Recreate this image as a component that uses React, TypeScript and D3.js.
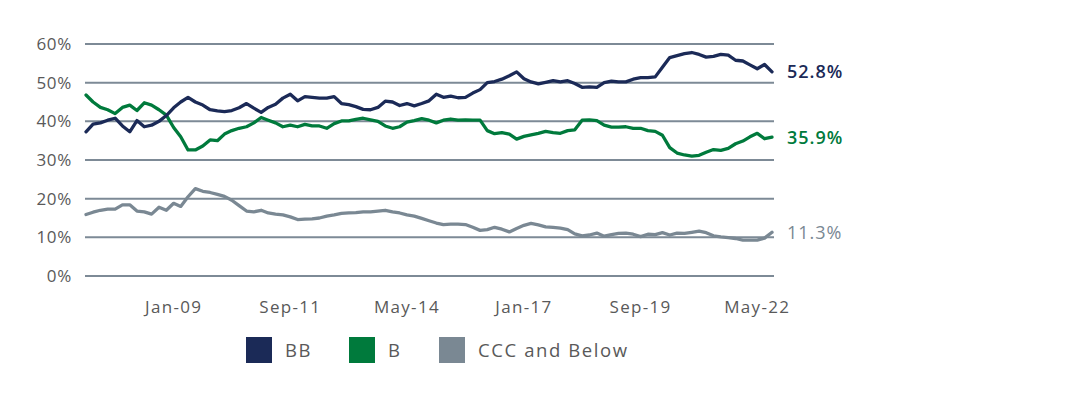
import * as d3 from "d3";

// bi-monthly readings, Jan-07 .. Sep-22
const bb = [
  37.3, 39.3, 39.6, 40.3, 40.8, 38.8, 37.3, 40.2, 38.6, 39, 40, 41.5, 43.5, 45,
  46.2, 45, 44.2, 43, 42.7, 42.5, 42.8, 43.5, 44.6, 43.4, 42.3, 43.6, 44.4, 46,
  47, 45.3, 46.4, 46.2, 46, 46, 46.4, 44.6, 44.3, 43.8, 43.1, 43, 43.6, 45.2,
  45, 44.1, 44.6, 44, 44.6, 45.3, 47, 46.2, 46.5, 46.1, 46.2, 47.3, 48.2,
  50, 50.3, 50.9, 51.8, 52.8, 51, 50.2, 49.7, 50.1, 50.5, 50.2, 50.5, 49.8, 48.8,
  48.9, 48.8, 50, 50.4, 50.2, 50.2, 50.9, 51.3, 51.3, 51.5, 54, 56.5, 57, 57.5,
  57.8, 57.3, 56.6, 56.8, 57.3, 57.1, 55.8, 55.6, 54.6, 53.6, 54.7, 52.8,
];
const b = [
  46.8, 45, 43.6, 43, 42, 43.6, 44.2, 42.8, 44.8, 44.2, 43, 41.6, 38.4, 36,
  32.6, 32.6, 33.6, 35.2, 35, 36.7, 37.6, 38.2, 38.6, 39.6, 41, 40.3, 39.6, 38.6,
  39, 38.6, 39.2, 38.8, 38.8, 38.2, 39.4, 40.1, 40.1, 40.5, 40.8, 40.4, 40, 38.8,
  38.2, 38.6, 39.8, 40.2, 40.7, 40.3, 39.6, 40.3, 40.6, 40.3, 40.4, 40.3, 40.3,
  37.6, 36.8, 37.1, 36.7, 35.4, 36.1, 36.5, 36.9, 37.4, 37.1, 36.9, 37.6, 37.8, 40.3,
  40.4, 40.2, 39, 38.5, 38.5, 38.6, 38.2, 38.2, 37.6, 37.4, 36.4, 33.2, 31.8, 31.3,
  31, 31.2, 32, 32.7, 32.5, 33, 34.2, 34.9, 36, 36.9, 35.5, 35.9,
];
const ccc = [
  15.9, 16.5, 17, 17.3, 17.3, 18.4, 18.4, 16.8, 16.6, 16, 17.8, 17, 18.8, 18,
  20.5, 22.6, 21.9, 21.6, 21.1, 20.6, 19.6, 18.2, 16.8, 16.6, 17, 16.3, 16, 15.8,
  15.3, 14.6, 14.7, 14.8, 15, 15.5, 15.8, 16.2, 16.3, 16.4, 16.6, 16.6, 16.8, 17,
  16.6, 16.3, 15.8, 15.5, 14.9, 14.3, 13.7, 13.3, 13.4, 13.4, 13.3, 12.6, 11.8,
  12, 12.6, 12.1, 11.4, 12.3, 13.1, 13.6, 13.2, 12.7, 12.6, 12.4, 12, 10.9, 10.4,
  10.6, 11.1, 10.3, 10.7, 11, 11.1, 10.8, 10.2, 10.8, 10.7, 11.2, 10.6, 11.1, 11,
  11.3, 11.6, 11.2, 10.4, 10.1, 9.9, 9.7, 9.3, 9.3, 9.3, 9.8, 11.3,
];
const dates = d3.timeMonth.every(2)!.range(new Date(2007, 0, 1), new Date(2022, 9, 1));
const tickDates = [new Date(2009, 0, 1), new Date(2011, 8, 1), new Date(2014, 4, 1),
  new Date(2017, 0, 1), new Date(2019, 8, 1), new Date(2022, 4, 1)];
const yTicks = [0, 10, 20, 30, 40, 50, 60];

const series = [
  { name: "BB", values: bb, color: "#1b2a57", endWeight: 600 },
  { name: "B", values: b, color: "#007a3c", endWeight: 600 },
  { name: "CCC and Below", values: ccc, color: "#7a8893", endWeight: 400 },
];

const FONT = "'Open Sans', Lato, sans-serif";

export default function App() {
  const x = d3.scaleTime()
    .domain([dates[0], dates[dates.length - 1]])
    .range([86, 772]);
  const y = d3.scaleLinear().domain([0, 60]).range([276, 44]);
  const fmt = d3.timeFormat("%b-%y");
  const line = (vals: number[]) =>
    d3.line<number>()
      .x((_, i) => x(dates[i]))
      .y(d => y(d))(vals) ?? "";

  const legendX = [246, 349, 439];

  return (
    <svg width={1076} height={396} style={{ position: "absolute", left: 0, top: 0 }}
      fontFamily={FONT}>
      <rect width={1076} height={396} fill="#fff" />
      {yTicks.map(t => (
        <g key={t}>
          <line x1={85} x2={774} y1={y(t)} y2={y(t)} stroke="#7d8a96" strokeWidth={2} />
          <text x={72} y={y(t)} dy="0.36em" textAnchor="end" fontSize={17}
            letterSpacing={0.7} fill="#595959">
            {t}%
          </text>
        </g>
      ))}
      {tickDates.map(d => (
        <text key={+d} x={x(d)} y={307} dy="0.36em" textAnchor="middle" fontSize={17}
          letterSpacing={1.3} fill="#595959">
          {fmt(d)}
        </text>
      ))}
      {series.slice().reverse().map(s => (
        <path key={s.name} d={line(s.values)} fill="none" stroke={s.color}
          strokeWidth={3.3} strokeLinejoin="round" strokeLinecap="round" />
      ))}
      {series.map(s => {
        const last = s.values[s.values.length - 1];
        return (
          <text key={s.name} x={787} y={y(last)} dy="0.36em" fontSize={18}
            letterSpacing={1} fontWeight={s.endWeight} fill={s.color}>
            {last.toFixed(1)}%
          </text>
        );
      })}
      {series.map((s, i) => (
        <g key={s.name} transform={`translate(${legendX[i]},337)`}>
          <rect width={26} height={26} fill={s.color} />
          <text x={39} y={13} dy="0.36em" fontSize={18.5} letterSpacing={1.6} fill="#595959">
            {s.name}
          </text>
        </g>
      ))}
    </svg>
  );
}
